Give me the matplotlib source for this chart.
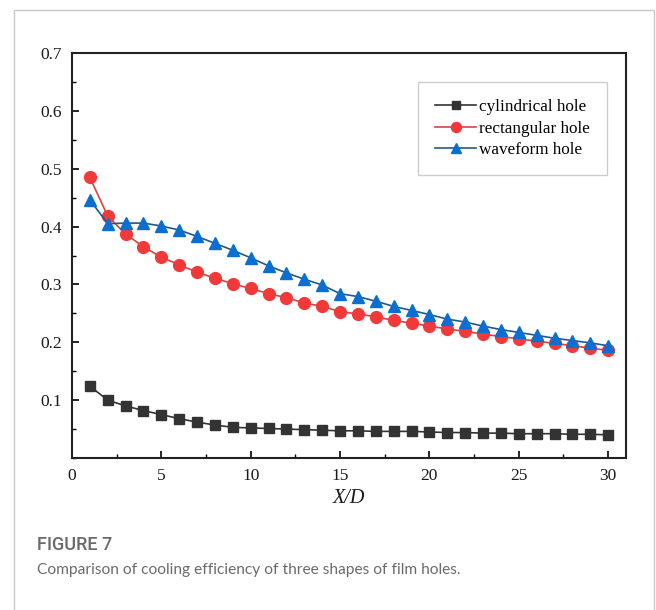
import matplotlib
matplotlib.use("Agg")
import matplotlib.pyplot as plt
from matplotlib.patches import Rectangle
from matplotlib.ticker import MultipleLocator

x = list(range(1, 31))
cylindrical = [0.124, 0.100, 0.090, 0.082, 0.075, 0.068, 0.062, 0.057, 0.053, 0.052,
               0.051, 0.050, 0.049, 0.048, 0.047, 0.047, 0.046, 0.046, 0.046, 0.045,
               0.044, 0.044, 0.043, 0.043, 0.042, 0.042, 0.042, 0.041, 0.041, 0.040]
rectangular = [0.485, 0.418, 0.387, 0.365, 0.347, 0.334, 0.321, 0.311, 0.301, 0.293,
               0.284, 0.277, 0.268, 0.262, 0.253, 0.249, 0.244, 0.238, 0.233, 0.228,
               0.223, 0.219, 0.214, 0.210, 0.206, 0.202, 0.198, 0.194, 0.190, 0.186]
waveform = [0.446, 0.405, 0.406, 0.406, 0.401, 0.394, 0.383, 0.371, 0.359, 0.346,
            0.332, 0.320, 0.309, 0.299, 0.284, 0.279, 0.271, 0.262, 0.255, 0.248,
            0.240, 0.235, 0.228, 0.222, 0.217, 0.212, 0.207, 0.203, 0.199, 0.194]
labels = ["cylindrical hole", "rectangular hole", "waveform hole"]
xticks = [0, 5, 10, 15, 20, 25, 30]
yticks = [0.1, 0.2, 0.3, 0.4, 0.5, 0.6, 0.7]

W, H = 656, 610
fig = plt.figure(figsize=(W / 100, H / 100), dpi=100)

# outer frame
fig.patches.append(Rectangle((14 / W, -0.02), (654 - 14) / W, 1 - 10 / H + 0.02,
                             transform=fig.transFigure, fill=False,
                             edgecolor="#c8c8c8", linewidth=1.0))

ax = fig.add_axes([72 / W, 1 - 458 / H, (626 - 72) / W, (458 - 53) / H])
serif = "Liberation Serif"

ax.plot(x, cylindrical, color="#333333", marker="s", markersize=7, linewidth=1.2,
        label=labels[0])
ax.plot(x, rectangular, color="#d9443f", marker="o", markersize=8.5,
        markerfacecolor="#f2393a", markeredgecolor="#f2393a", linewidth=1.2, label=labels[1])
ax.plot(x, waveform, color="#1f5a8c", marker="^", markersize=9,
        markerfacecolor="#0a6fd1", markeredgecolor="#0a6fd1", linewidth=1.2, label=labels[2])

ax.set_xlim(0, 31)
ax.set_ylim(0, 0.7)
ax.set_xticks(xticks)
ax.set_yticks(yticks)
ax.xaxis.set_minor_locator(MultipleLocator(2.5))
ax.yaxis.set_minor_locator(MultipleLocator(0.05))
ax.tick_params(which="major", direction="in", length=5, width=1.2, labelsize=12.5,
               top=False, right=False, pad=7)
ax.tick_params(which="minor", direction="in", length=3, width=1.0, top=False, right=False)
for lab in ax.get_xticklabels() + ax.get_yticklabels():
    lab.set_fontfamily(serif)
    lab.set_color("#1a1a1a")
for s in ax.spines.values():
    s.set_linewidth(1.5)
    s.set_color("#222222")

ax.set_xlabel("X/D", fontsize=14.5, fontstyle="italic", family=serif, color="#1a1a1a",
              labelpad=4)

leg = ax.legend(loc="upper right", bbox_to_anchor=((607 - 72) / (626 - 72), (458 - 82) / (458 - 53)),
                prop={"family": serif, "size": 12.3}, frameon=True, fancybox=False,
                edgecolor="#c0c0c0", handlelength=2.4, handletextpad=0.15,
                labelspacing=0.33, borderpad=1.0, borderaxespad=0, markerscale=0.85)
leg.get_frame().set_linewidth(1.0)

fig.text(37 / W, 1 - 545 / H, "FIGURE 7", family="Roboto", fontsize=13, fontweight="medium",
         color="#6b6b6b", va="center", ha="left")
fig.text(37 / W, 1 - 570 / H, "Comparison of cooling efficiency of three shapes of film holes.",
         family="Lato", fontsize=11.2, color="#6b6b6b", va="center", ha="left")

fig.savefig("out.png", dpi=100)
